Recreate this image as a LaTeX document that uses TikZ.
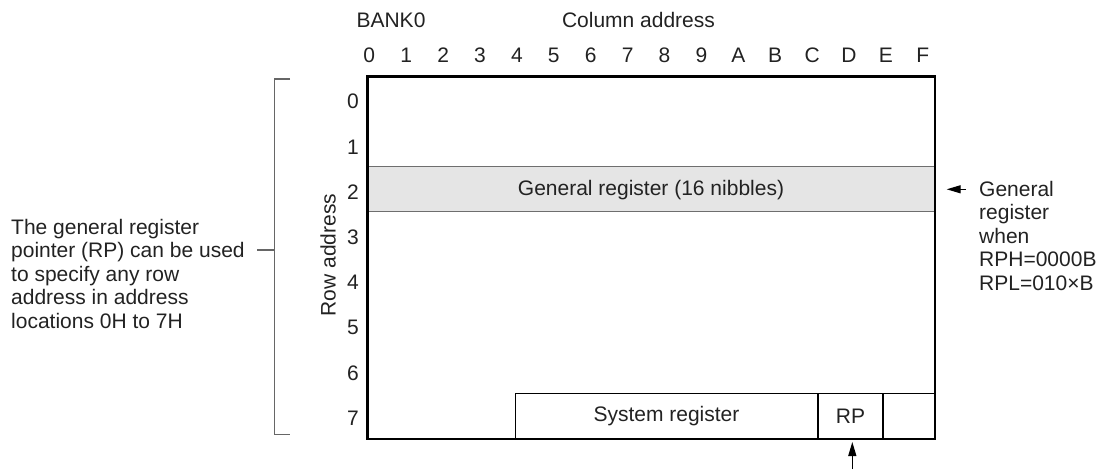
\documentclass[tikz,border=0pt]{standalone}
\usepackage{fontspec}
\setmainfont{Liberation Sans}
\usetikzlibrary{arrows.meta}
\definecolor{txt}{HTML}{222222}
\definecolor{brk}{HTML}{666666}
\definecolor{band}{HTML}{E5E5E5}
\definecolor{bandline}{HTML}{6E6E6E}
\begin{document}
\begin{tikzpicture}[x=1pt,y=-1pt,
  lbl/.style={font=\fontsize{21}{23.5}\selectfont, text=txt, inner sep=0pt},
  outerbox/.style={line width=2.6pt, draw=black},
  thinline/.style={line width=1.2pt, draw=black},
  bandedge/.style={line width=1.3pt, draw=bandline},
  bracket/.style={line width=1.4pt, draw=brk},
  pointer/.style={line width=1.2pt, draw=black, -{Triangle[length=14pt,width=8pt]}}]
\useasboundingbox (0,0) rectangle (1102,469);

% titles
\node[lbl] (bank) at (391,20) {BANK0};
\node[lbl] (coltitle) at (638.5,20) {Column address};

% column digits
\foreach \d [count=\i from 0] in {0,1,2,3,4,5,6,7,8,9,A,B,C,D,E,F}
  \node[lbl] (col\i) at ({369.3+36.9*\i},55) {\d};

% row digits
\foreach \i in {0,...,7}
  \node[lbl] (row\i) at (353,{101.7+45.2*\i}) {\i};

\node[lbl, rotate=90] (rowtitle) at (328,255) {Row address};

% general register band
\fill[band] (367.7,166.7) rectangle (935,211.7);
\draw[bandedge] (367.7,166.7) -- (935,166.7);
\draw[bandedge] (367.7,211.7) -- (935,211.7);
\node[lbl] (genreg) at (651,190) {General register (16 nibbles)};

% system register row
\draw[thinline] (515.7,439) |- (935,393.3);
\draw[thinline] (818,393.3) -- (818,439);
\draw[thinline] (883,393.3) -- (883,439);
\node[lbl] (sysreg) at (666.5,416) {System register};
\node[lbl] (rp) at (850.5,416) {RP};

% outer box
\draw[outerbox] (367.7,76.7) rectangle (935,439);

% arrow under RP
\coordinate (rptail) at (852.3,469);
\coordinate (rptip) at (852.3,442);
\draw[pointer] (rptail) -- (rptip);

% right annotation
\node[lbl, align=left, anchor=west] (rightnote) at (979,235.5)
  {General\\register\\when\\RPH=0000B\\RPL=010\texttimes B};
\coordinate (rtail) at (966,189.3);
\coordinate (rtip) at (946.7,189.3);
\draw[pointer] (rtail) -- (rtip);

% left bracket and annotation
\coordinate (btop) at (290,79);
\coordinate (bbot) at (290,434.7);
\coordinate (bmid) at (274.3,250);
\draw[bracket] (btop) -- (274.3,79) -- (274.3,434.7) -- (bbot);
\draw[bracket] (bmid) -- ++(-17.6,0);
\node[lbl, align=left, anchor=west] (leftnote) at (11,273.5)
  {The general register\\pointer (RP) can be used\\to specify any row\\address in address\\locations 0H to 7H};
\end{tikzpicture}
\end{document}
